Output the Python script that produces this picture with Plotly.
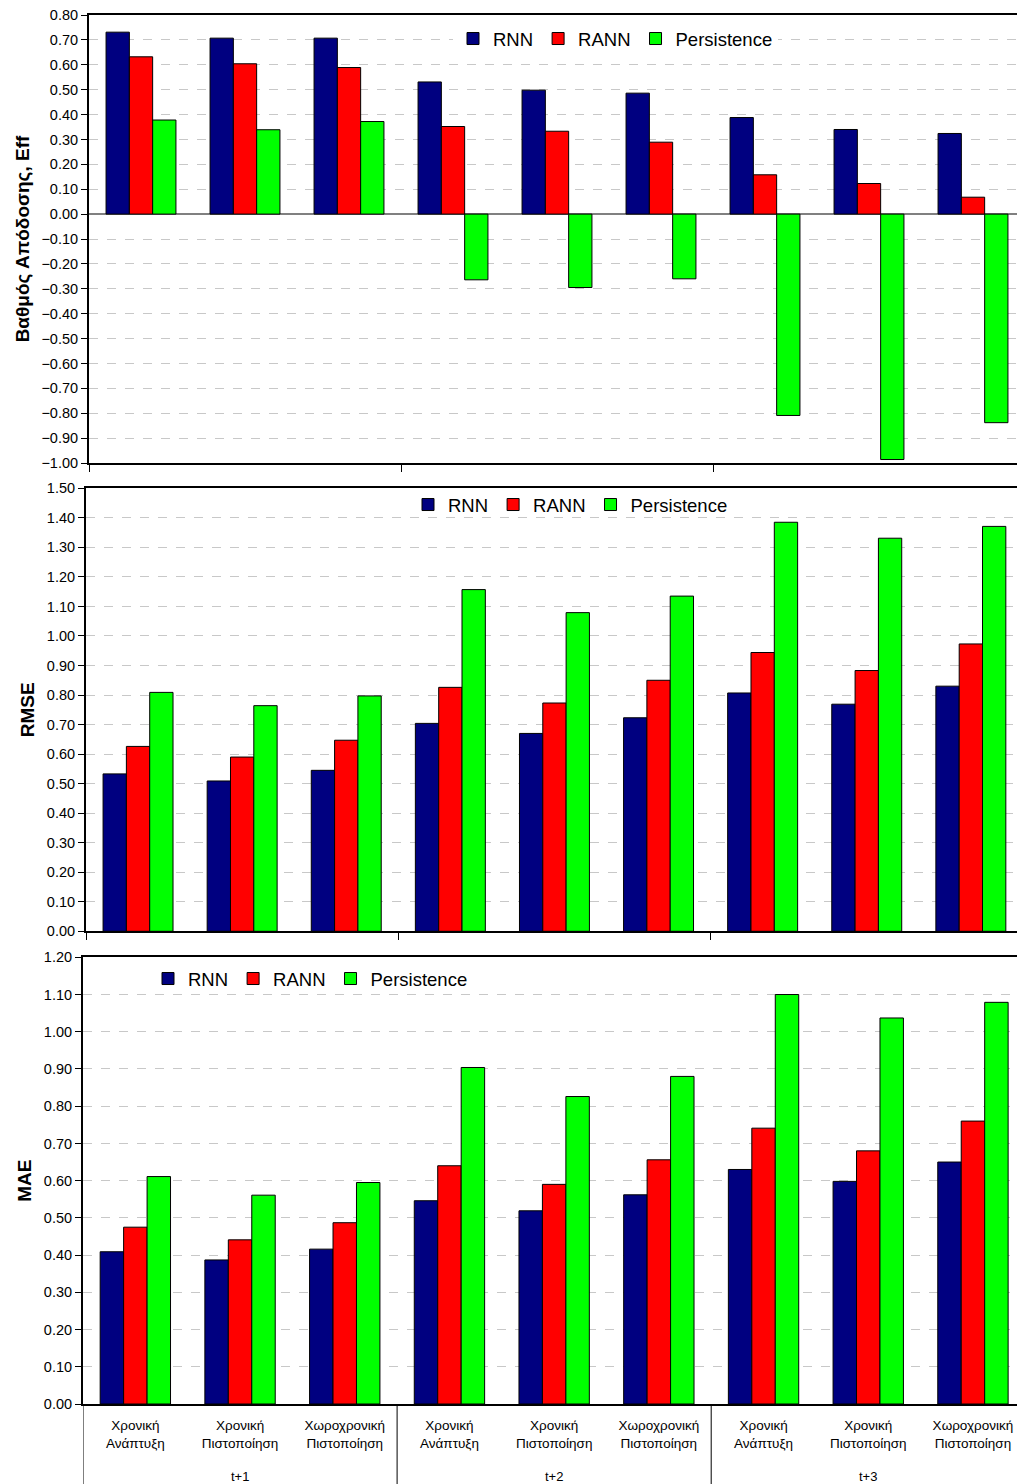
import plotly.graph_objects as go

# Forecast configurations (lower level) and horizons (upper level)
configs = [
    "Χρονική<br>Ανάπτυξη", "Χρονική<br>Πιστοποίηση", "Χωροχρονική<br>Πιστοποίηση",
    "Χρονική<br>Ανάπτυξη", "Χρονική<br>Πιστοποίηση", "Χωροχρονική<br>Πιστοποίηση",
    "Χρονική<br>Ανάπτυξη", "Χρονική<br>Πιστοποίηση", "Χωροχρονική<br>Πιστοποίηση",
]
horizons = ["t+1", "t+2", "t+3"]
models = ["RNN", "RANN", "Persistence"]
colors = ["#000080", "#FF0000", "#00FF00"]

# Efficiency coefficient (Eff)
eff_rnn = [0.731, 0.707, 0.707, 0.531, 0.498, 0.486, 0.388, 0.340, 0.324]
eff_rann = [0.632, 0.604, 0.589, 0.352, 0.333, 0.289, 0.158, 0.123, 0.068]
eff_pers = [0.378, 0.339, 0.372, -0.264, -0.295, -0.260, -0.809, -0.986, -0.838]

# RMSE
rmse_rnn = [0.533, 0.509, 0.545, 0.704, 0.670, 0.723, 0.807, 0.769, 0.830]
rmse_rann = [0.626, 0.590, 0.647, 0.826, 0.773, 0.850, 0.944, 0.883, 0.973]
rmse_pers = [0.809, 0.764, 0.797, 1.157, 1.079, 1.135, 1.385, 1.331, 1.371]

# MAE
mae_rnn = [0.409, 0.387, 0.416, 0.546, 0.519, 0.562, 0.630, 0.598, 0.650]
mae_rann = [0.475, 0.441, 0.487, 0.640, 0.590, 0.656, 0.741, 0.680, 0.760]
mae_pers = [0.611, 0.561, 0.595, 0.904, 0.826, 0.880, 1.100, 1.037, 1.079]

W, H = 1017, 1484
FONT = "Liberation Sans, Arial, sans-serif"
xs = list(range(len(configs)))


def px_x(p):
    return p / W


def px_y(p):
    return 1 - p / H


panels = [
    # (series, y-range, y title, plot left px, top px, bottom px, axis suffix, legend name, legend pos px, legend bg)
    ([eff_rnn, eff_rann, eff_pers], [-1.0, 0.8], "Βαθμός Απόδοσης, Eff", 89, 15, 463, "", "legend", (453, 39), "white"),
    ([rmse_rnn, rmse_rann, rmse_pers], [0.0, 1.5], "RMSE", 86, 488.3, 931.3, "2", "legend2", (408, 505), "rgba(0,0,0,0)"),
    ([mae_rnn, mae_rann, mae_pers], [0.0, 1.2], "MAE", 83, 957.3, 1404, "3", "legend3", (148, 979), "rgba(0,0,0,0)"),
]
cat_px = [104.0, 104.1, 104.7]

fig = go.Figure()
layout = dict(
    width=W, height=H,
    margin=dict(l=0, r=0, t=0, b=0, autoexpand=False),
    paper_bgcolor="white", plot_bgcolor="white",
    barmode="group", bargap=0.328, bargroupgap=0.0,
    font=dict(family=FONT, size=14, color="black"),
    showlegend=True,
)

for i, (series, yr, ytitle, left, top, bottom, sfx, leg, (lx, ly), lbg) in enumerate(panels):
    xa = "x" + sfx
    ya = "y" + sfx
    for name, vals, col in zip(models, series, colors):
        fig.add_trace(go.Bar(
            x=xs, y=vals, name=name, xaxis=xa, yaxis=ya, legend=leg,
            marker=dict(color=col, line=dict(color="black", width=1)),
            hoverinfo="y+name",
        ))
    xmax = (W - left) / cat_px[i] - 0.5
    xkey = "xaxis" + sfx
    ykey = "yaxis" + sfx
    last = (i == 2)
    layout[xkey] = dict(
        domain=[px_x(left), 1.0], anchor=ya, range=[-0.5, xmax],
        automargin=False,
        showline=True, linecolor="black", linewidth=2, mirror=True,
        showgrid=False, zeroline=False,
        tickmode="array",
        tickvals=xs if last else [-0.5, 2.5, 5.5],
        ticktext=configs if last else ["", "", ""],
        ticks="" if last else "outside", ticklen=7, tickcolor="black", tickwidth=1,
        showticklabels=last,
        tickfont=dict(family=FONT, size=13.5, color="black"),
        ticklabelstandoff=8,
    )
    layout[ykey] = dict(
        domain=[px_y(bottom), px_y(top)], anchor=xa, range=yr,
        automargin=False,
        dtick=0.1, tick0=0, tickformat=".2f",
        showline=True, linecolor="black", linewidth=2, mirror=False,
        ticks="outside", ticklen=6, tickcolor="black", tickwidth=1,
        tickfont=dict(family=FONT, size=14.5, color="black"),
        showgrid=True, gridcolor="#c8c8c8", gridwidth=1, griddash="dash",
        zeroline=(i == 0), zerolinecolor="#808080", zerolinewidth=1.5,
        title=dict(text="<b>" + ytitle + "</b>", font=dict(family=FONT, size=19, color="black"), standoff=7),
    )
    layout[leg] = dict(
        orientation="h", x=px_x(lx), y=px_y(ly), xanchor="left", yanchor="middle",
        bgcolor=lbg, borderwidth=0,
        font=dict(family=FONT, size=18.5, color="black"),
        itemclick=False, itemdoubleclick=False,
    )

# Horizon group separators and labels beneath the bottom panel
shapes = []
annotations = []
for b in [-0.5, 2.5, 5.5]:
    shapes.append(dict(type="line", xref="x3", yref="paper", x0=b, x1=b,
                       y0=px_y(1404), y1=0, line=dict(color="black", width=1)))
for k, h in enumerate(horizons):
    annotations.append(dict(x=3 * k + 1, y=px_y(1476), xref="x3", yref="paper",
                            text=h, showarrow=False, xanchor="center", yanchor="middle",
                            font=dict(family=FONT, size=13, color="black")))
layout["shapes"] = shapes
layout["annotations"] = annotations

fig.update_layout(**layout)
fig.write_html("out.html")
